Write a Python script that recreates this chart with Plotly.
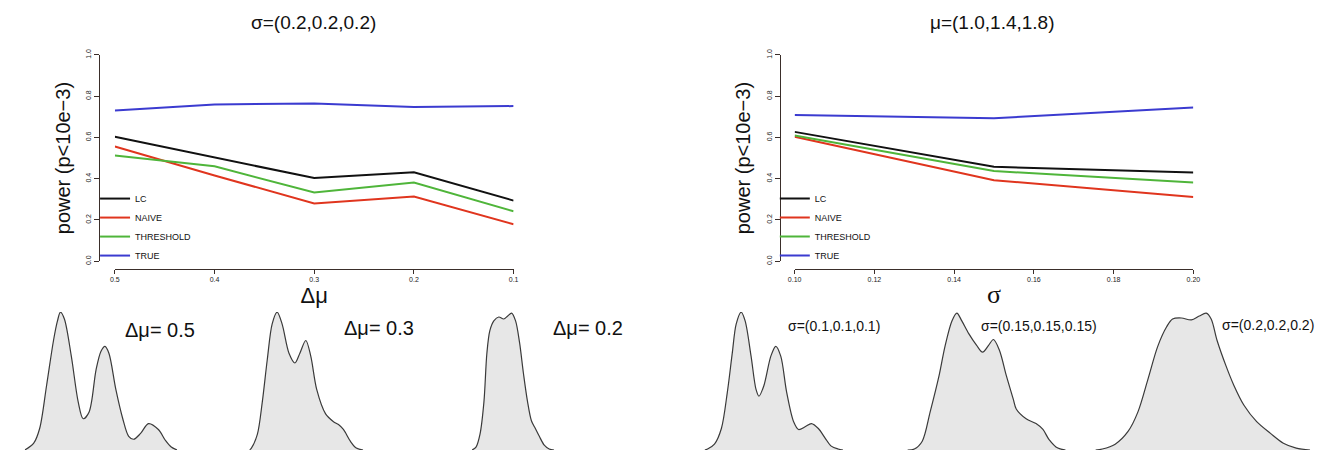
import plotly.graph_objects as go

W, H = 1327, 455

# ---------------- data ----------------
delta_mu = [0.5, 0.4, 0.3, 0.2, 0.1]
lc_dmu = [0.603, 0.502, 0.403, 0.431, 0.294]
naive_dmu = [0.556, 0.416, 0.280, 0.314, 0.179]
thr_dmu = [0.512, 0.460, 0.333, 0.382, 0.242]
true_dmu = [0.730, 0.760, 0.765, 0.747, 0.752]

sigma = [0.10, 0.15, 0.20]
lc_sig = [0.627, 0.458, 0.430]
naive_sig = [0.603, 0.393, 0.311]
thr_sig = [0.609, 0.437, 0.382]
true_sig = [0.709, 0.693, 0.745]

methods = ["LC", "NAIVE", "THRESHOLD", "TRUE"]
y_ticks = [0.0, 0.2, 0.4, 0.6, 0.8, 1.0]
sigma_ticks = [0.10, 0.12, 0.14, 0.16, 0.18, 0.20]

# example mixture densities (offset along the curve, relative height)
dens1_x = [0, 9, 15, 22, 29, 33, 36, 40, 47, 54, 59, 65, 72, 77, 81, 85, 92, 99, 105, 110, 117, 125, 135, 142, 148, 154]
dens1_h = [0, 7, 22, 66, 112, 132, 141, 134, 96, 49, 32, 39, 82, 101, 106, 99, 62, 32, 14, 11, 17, 27, 21, 10, 3, 0]
dens2_x = [0, 2, 8, 13, 18, 23, 28, 33, 40, 46, 51, 57, 62, 68, 77, 85, 90, 95, 102, 108, 115]
dens2_h = [0, 2, 16, 49, 92, 129, 141, 129, 99, 89, 99, 112, 96, 62, 37, 29, 26, 21, 9, 2, 0]
dens3_x = [0, 4, 8, 12, 15, 18, 22, 27, 32, 36, 40, 44, 48, 52, 56, 60, 64, 68, 73, 78, 83]
dens3_h = [0, 3, 16, 49, 99, 122, 132, 136, 134, 137, 140, 132, 110, 78, 50, 30, 22, 14, 5, 1, 0]
dens4_x = [0, 3, 10, 17, 23, 28, 32, 37, 41, 47, 52, 55, 60, 67, 72, 77, 83, 90, 95, 102, 108, 115, 122, 128, 135, 140]
dens4_h = [0, 1, 6, 22, 59, 99, 129, 141, 132, 96, 62, 55, 66, 96, 106, 96, 59, 29, 21, 24, 27, 22, 12, 4, 1, 0]
dens5_x = [0, 7, 15, 23, 32, 38, 45, 50, 55, 62, 70, 76, 82, 87, 93, 100, 107, 110, 120, 130, 137, 143, 152, 160]
dens5_h = [0, 1, 9, 39, 76, 106, 132, 140, 132, 119, 107, 100, 107, 113, 102, 76, 52, 42, 32, 27, 21, 11, 2, 0]
dens6_x = [0, 7, 20, 33, 43, 53, 63, 72, 78, 87, 97, 105, 112, 117, 123, 132, 140, 150, 163, 177, 190, 203, 217]
dens6_h = [0, 1, 6, 19, 39, 72, 106, 126, 134, 135, 133, 137, 140, 134, 112, 86, 66, 46, 29, 17, 7, 2, 0]

dens_x = [dens1_x, dens2_x, dens3_x, dens4_x, dens5_x, dens6_x]
dens_h = [dens1_h, dens2_h, dens3_h, dens4_h, dens5_h, dens6_h]
dens_labels = ["Δμ= 0.5", "Δμ= 0.3", "Δμ= 0.2",
               "σ=(0.1,0.1,0.1)", "σ=(0.15,0.15,0.15)", "σ=(0.2,0.2,0.2)"]

# ---------------- styles / layout positions ----------------
colors = ["#111111", "#e0351e", "#4fb53a", "#3b3bd0"]
axis_col = "#3a2e2a"
font_fam = "Liberation Sans, Arial, Helvetica, sans-serif"
serif_fam = "Liberation Serif, Times New Roman, serif"
dens_start_px = [18, 245, 470, 705, 910, 1100]
dens_label_pos = [(155, 331, 20), (376, 329, 20), (587, 329, 20),
                  (836, 327, 14), (1043, 327, 14), (1274, 326, 14)]


def px(x):
    return x / W


def py(y):
    return 1 - y / H


fig = go.Figure()

left_series = [lc_dmu, naive_dmu, thr_dmu, true_dmu]
right_series = [lc_sig, naive_sig, thr_sig, true_sig]

for name, col, ys in zip(methods, colors, left_series):
    fig.add_trace(go.Scatter(x=delta_mu, y=ys, mode="lines", name=name,
                             line=dict(color=col, width=2),
                             xaxis="x", yaxis="y", legend="legend"))
for name, col, ys in zip(methods, colors, right_series):
    fig.add_trace(go.Scatter(x=sigma, y=ys, mode="lines", name=name,
                             line=dict(color=col, width=2),
                             xaxis="x2", yaxis="y2", legend="legend2"))

for i, (dx, dh) in enumerate(zip(dens_x, dens_h)):
    k = i + 3
    fig.add_trace(go.Scatter(x=dx, y=dh, mode="lines", fill="tozeroy",
                             fillcolor="#e7e7e7",
                             line=dict(color="#3a3a3a", width=1.2, shape="spline", smoothing=0.9),
                             showlegend=False, hoverinfo="skip",
                             xaxis=f"x{k}", yaxis=f"y{k}"))

common_x = dict(anchor="free", ticks="outside", ticklen=4, tickwidth=1, tickcolor=axis_col,
                showline=True, linecolor=axis_col, linewidth=1, showgrid=False, zeroline=False,
                tickfont=dict(size=7, color="#222", family=font_fam))
common_y = dict(anchor="free", ticks="outside", ticklen=5, tickwidth=1, tickcolor=axis_col,
                showline=True, linecolor=axis_col, linewidth=1, showgrid=False, zeroline=False,
                range=[0, 1], tickvals=y_ticks, ticktext=[f"{v:.1f}" for v in y_ticks],
                tickangle=-90, tickfont=dict(size=7, color="#222", family=font_fam),
                domain=[py(261), py(50)])

layout = dict(
    width=W, height=H,
    margin=dict(l=0, r=0, t=0, b=0),
    paper_bgcolor="white", plot_bgcolor="white",
    font=dict(family=font_fam, color="#111"),
    xaxis=dict(domain=[px(109), px(512)], range=[0.5, 0.1], position=py(269),
               tickvals=delta_mu, ticktext=[f"{v:.1f}" for v in delta_mu],
               title=dict(text="Δμ", font=dict(size=22, color="#111"), standoff=4), **common_x),
    yaxis=dict(position=px(93),
               title=dict(text="power (p<10e−3)", font=dict(size=20, color="#111"), standoff=8),
               **common_y),
    xaxis2=dict(domain=[px(796), px(1199)], range=[0.10, 0.20], position=py(269),
                tickvals=sigma_ticks, ticktext=[f"{v:.2f}" for v in sigma_ticks],
                title=dict(text="σ", font=dict(size=26, color="#111", family=serif_fam), standoff=2),
                **common_x),
    yaxis2=dict(position=px(781),
                title=dict(text="power (p<10e−3)", font=dict(size=20, color="#111"), standoff=8),
                **common_y),
    legend=dict(x=px(89), y=py(270), xanchor="left", yanchor="bottom",
                font=dict(size=9, family=font_fam, color="#111"), bgcolor="rgba(0,0,0,0)",
                tracegroupgap=0, itemwidth=30),
    legend2=dict(x=px(776), y=py(270), xanchor="left", yanchor="bottom",
                 font=dict(size=9, family=font_fam, color="#111"), bgcolor="rgba(0,0,0,0)",
                 tracegroupgap=0, itemwidth=30),
    showlegend=True,
)

for i, (dx, dh) in enumerate(zip(dens_x, dens_h)):
    k = i + 3
    start = dens_start_px[i]
    width = max(dx)
    layout[f"xaxis{k}"] = dict(domain=[px(start), px(start + width)], range=[0, width],
                               visible=False, anchor=f"y{k}", fixedrange=True)
    layout[f"yaxis{k}"] = dict(domain=[py(454), py(313)], range=[0, 141],
                               visible=False, anchor=f"x{k}", fixedrange=True)

fig.update_layout(**layout)

annotations = [
    dict(text="σ=(0.2,0.2,0.2)", x=px(310), y=py(17), font=dict(size=19)),
    dict(text="μ=(1.0,1.4,1.8)", x=px(996), y=py(17), font=dict(size=19)),
]
for lab, (lx, ly, fs) in zip(dens_labels, dens_label_pos):
    annotations.append(dict(text=lab, x=px(lx), y=py(ly), font=dict(size=fs)))
for a in annotations:
    fig.add_annotation(xref="paper", yref="paper", showarrow=False,
                       xanchor="center", yanchor="middle", **a)

# remove the default 8px page margin so the figure fills the 1327x455 window exactly
fig.write_html("out.html",
               config={"displayModeBar": False},
               post_script="document.body.style.margin='0';document.body.style.overflow='hidden';")
